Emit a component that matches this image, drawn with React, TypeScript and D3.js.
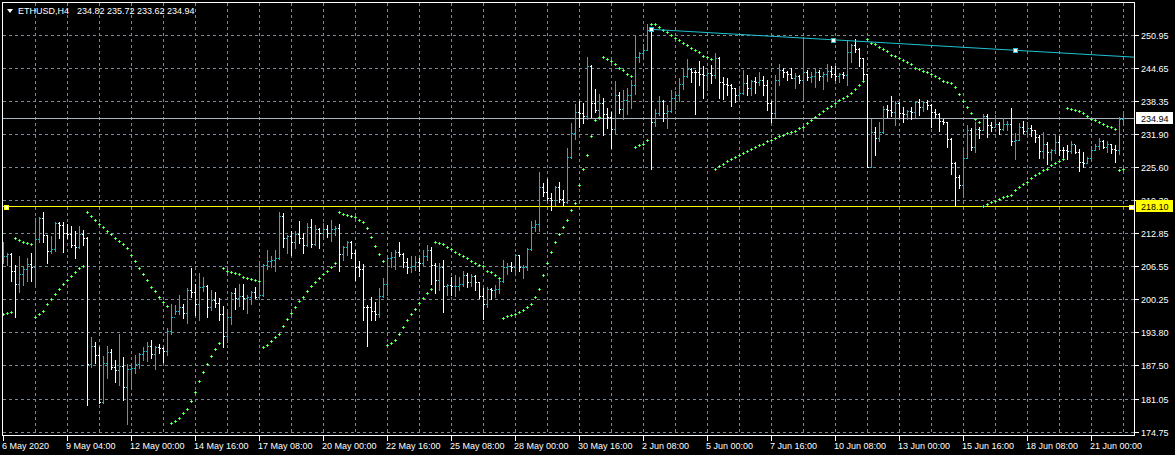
import React from 'react';
import * as d3 from 'd3';

// ---- data (ETHUSD H4) ----
const OPEN = [
  207.9,208.4,208.8,205.6,203.1,205.0,205.9,207.0,206.4,211.8,
  215.8,212.5,209.5,209.8,214.8,214.4,212.9,212.7,210.6,210.2,
  212.7,211.9,187.7,191.2,189.5,180.5,187.9,190.0,187.1,186.6,
  187.4,183.4,186.7,186.9,187.7,189.7,190.2,191.2,189.6,191.1,
  190.9,190.3,194.0,196.8,198.0,198.6,197.6,202.0,201.6,199.2,
  202.6,202.7,198.6,200.0,199.4,197.3,193.2,196.8,201.4,200.4,
  200.8,200.4,200.6,201.6,200.7,201.0,206.8,207.6,207.7,208.1,
  216.2,212.0,212.3,211.1,212.7,211.9,210.6,214.1,210.7,213.6,
  212.9,213.6,213.0,213.6,213.8,208.8,210.3,211.2,209.1,206.3,
  205.9,198.7,198.6,198.0,197.3,200.8,203.1,208.1,208.3,209.3,
  208.9,207.4,206.4,206.6,207.4,207.1,208.4,209.6,206.8,203.9,
  206.3,202.7,202.9,202.7,202.8,203.2,204.8,203.4,204.6,203.4,
  200.8,199.3,202.1,202.0,202.1,203.7,206.4,206.6,206.4,208.7,
  206.3,206.4,209.8,214.0,214.6,221.7,220.7,219.6,219.2,221.8,
  219.4,218.9,227.6,232.1,236.2,236.0,235.4,244.9,237.8,236.5,
  237.8,235.7,235.1,232.9,239.4,236.7,238.5,239.5,241.3,246.8,
  247.4,248.1,251.9,234.2,235.9,238.3,235.9,236.4,238.8,239.5,
  241.5,243.1,244.4,243.9,243.8,243.4,243.3,243.6,243.3,246.5,
  242.0,241.5,241.3,240.7,239.4,239.9,241.7,240.7,242.1,242.0,
  242.3,241.3,237.8,235.9,242.3,244.2,243.9,243.4,242.7,243.1,
  242.3,243.9,242.9,243.1,243.9,243.1,243.4,244.0,243.4,243.1,
  243.4,243.3,247.6,249.0,248.3,246.5,243.4,225.6,232.3,231.1,
  232.3,236.7,236.5,236.1,237.8,235.9,235.7,236.4,236.2,238.0,
  237.2,238.0,237.5,236.1,235.7,234.4,234.2,231.0,226.3,223.7,
  222.1,227.4,232.7,229.5,232.9,232.7,235.4,233.7,233.3,233.8,
  232.9,233.8,233.9,230.6,230.8,233.2,232.5,233.1,232.7,231.4,
  228.7,230.1,228.4,228.9,230.4,228.9,228.8,228.7,230.1,228.4,
  226.6,226.4,227.4,228.9,229.7,230.6,229.5,230.1,229.0,228.9,
  234.82
];
const HIGH = [
  211.2,209.1,209.0,206.8,208.5,206.6,208.1,209.0,215.7,215.9,
  216.9,212.5,212.3,215.0,215.0,215.0,214.6,214.3,213.2,214.3,
  213.5,212.2,193.0,191.9,191.1,189.3,191.2,190.6,188.6,193.5,
  189.1,187.7,188.0,189.5,189.8,191.1,192.0,192.4,191.2,191.6,
  191.0,194.7,199.3,199.1,201.0,199.3,202.4,206.1,203.1,205.2,
  204.4,202.9,202.0,201.5,200.4,198.9,198.4,201.6,202.3,203.1,
  203.1,201.0,201.8,202.6,207.0,207.0,209.6,208.4,209.6,216.9,
  216.8,212.5,213.2,213.3,215.2,212.9,214.9,215.6,214.4,213.8,
  214.8,214.4,215.4,214.3,214.6,210.4,211.4,211.4,209.6,207.5,
  207.0,199.1,200.6,199.7,202.4,204.2,208.7,209.3,209.6,211.2,
  209.1,208.1,208.4,208.4,208.1,209.6,210.6,210.3,207.1,207.1,
  207.7,203.2,204.5,204.8,204.5,205.7,205.2,205.0,204.8,203.5,
  202.3,202.6,202.4,202.9,204.4,207.7,207.1,207.4,208.9,208.7,
  206.8,210.1,215.3,215.5,224.7,222.6,223.3,220.5,221.9,222.8,
  221.2,229.2,234.1,237.6,238.3,237.8,246.7,245.2,240.6,239.7,
  238.8,237.0,236.2,242.1,240.0,240.4,240.7,242.3,250.8,247.7,
  249.2,253.0,252.2,236.7,239.2,238.5,237.5,240.4,240.2,242.6,
  244.7,246.3,244.7,244.2,245.9,244.9,244.5,245.2,247.4,246.8,
  242.9,242.6,241.5,240.8,241.2,244.2,243.3,242.3,242.9,243.9,
  243.1,242.3,238.3,243.3,245.3,244.7,244.0,244.7,243.6,243.3,
  250.6,244.2,243.9,244.5,244.2,243.8,245.3,244.9,244.9,243.6,
  243.9,250.0,249.2,250.2,248.4,246.5,243.4,234.8,233.3,234.2,
  237.4,237.5,239.3,238.3,238.0,237.1,236.5,237.2,238.3,238.6,
  238.3,238.5,237.6,236.7,235.9,234.9,234.3,231.1,226.5,224.1,
  228.9,233.7,233.0,234.3,233.3,235.7,235.7,234.2,235.6,234.2,
  235.0,234.4,237.0,232.1,234.0,234.4,234.2,233.7,232.7,231.7,
  232.3,230.3,229.0,231.9,231.6,229.5,229.9,230.6,229.9,229.0,
  228.4,227.6,229.7,230.1,231.2,230.8,230.6,230.1,229.8,235.2,
  235.72
];
const LOW = [
  207.1,206.8,203.7,196.8,201.6,202.9,203.6,203.7,202.6,211.2,
  211.2,207.2,209.0,209.5,212.0,209.3,211.9,210.3,208.1,210.0,
  210.6,179.9,187.1,188.0,180.3,180.3,185.0,186.8,184.3,183.7,
  180.8,176.2,183.1,186.0,186.9,188.5,188.4,188.8,186.8,189.8,
  188.1,189.5,193.5,197.3,197.3,196.6,195.7,200.6,197.2,196.1,
  201.8,196.8,198.2,198.6,196.2,191.1,192.0,195.4,198.3,198.9,
  198.3,197.6,199.3,200.4,200.7,200.8,205.9,206.4,205.7,207.9,
  210.2,209.1,208.7,210.1,211.0,209.1,210.4,210.3,210.6,210.1,
  211.8,212.2,211.4,212.5,205.7,207.7,208.7,208.1,203.9,204.6,
  196.1,191.2,196.2,196.2,196.8,200.7,201.0,206.3,205.9,208.4,
  206.4,205.2,205.5,205.8,205.6,206.8,207.7,203.2,201.4,202.0,
  197.8,201.0,201.0,200.8,202.0,202.7,202.5,202.7,202.0,200.4,
  196.4,198.6,200.2,200.7,201.4,203.4,205.0,205.7,204.8,205.7,
  204.2,205.8,209.6,213.2,213.3,220.0,219.2,217.3,218.3,218.9,
  218.3,218.6,227.3,231.0,233.3,234.0,234.9,235.1,236.2,234.8,
  231.7,233.0,229.2,232.1,236.0,234.8,235.8,237.0,239.7,245.7,
  246.6,248.1,225.3,233.5,235.6,234.4,233.1,236.2,236.7,238.3,
  240.6,242.9,242.0,235.8,241.3,238.9,240.4,241.7,242.6,238.8,
  238.6,239.5,237.4,238.0,238.3,239.6,239.4,239.4,239.9,241.3,
  239.4,236.5,234.3,235.1,241.3,242.9,242.3,242.6,240.7,241.7,
  238.5,242.3,242.0,241.0,242.3,240.6,242.1,242.9,242.3,242.0,
  242.6,241.3,245.8,247.7,244.9,242.1,225.5,225.5,227.8,230.6,
  232.1,235.2,235.4,233.7,235.1,234.3,234.9,234.8,235.2,235.6,
  236.3,236.7,233.3,235.1,232.5,233.8,229.5,224.2,218.0,221.6,
  219.9,227.3,228.9,228.5,231.2,232.7,231.4,232.5,233.3,231.9,
  232.7,232.7,229.9,227.1,230.8,232.2,231.6,231.6,230.4,227.4,
  227.4,226.1,226.9,228.2,227.9,227.4,227.1,228.2,228.2,224.8,
  225.5,226.3,226.7,228.9,229.0,229.2,228.5,228.2,226.6,228.0,
  233.62
];
const CLOSE = [
  208.4,208.8,205.6,203.1,205.0,205.9,207.0,206.4,211.8,215.8,
  212.5,209.5,209.8,214.8,214.4,212.9,212.7,210.6,210.2,212.7,
  211.9,187.7,191.2,189.5,180.5,187.9,190.0,187.1,186.6,187.4,
  183.4,186.7,186.9,187.7,189.7,190.2,191.2,189.6,191.1,190.9,
  190.3,194.0,196.8,198.0,198.6,197.6,202.0,201.6,199.2,202.6,
  202.7,198.6,200.0,199.4,197.3,193.2,196.8,201.4,200.4,200.8,
  200.4,200.6,201.6,200.7,201.0,206.8,207.6,207.7,208.1,216.2,
  212.0,212.3,211.1,212.7,211.9,210.6,214.1,210.7,213.6,212.9,
  213.6,213.0,213.6,213.8,208.8,210.3,211.2,209.1,206.3,205.9,
  198.7,198.6,198.0,197.3,200.8,203.1,208.1,208.3,209.3,208.9,
  207.4,206.4,206.6,207.4,207.1,208.4,209.6,206.8,203.9,206.3,
  202.7,202.9,202.7,202.8,203.2,204.8,203.4,204.6,203.4,200.8,
  199.3,202.1,202.0,202.1,203.7,206.4,206.6,206.4,208.7,206.3,
  206.4,209.8,214.0,214.6,221.7,220.7,219.6,219.2,221.8,219.4,
  218.9,227.6,232.1,236.2,236.0,235.4,244.9,237.8,236.5,237.8,
  235.7,235.1,232.9,239.4,236.7,238.5,239.5,241.3,246.8,247.4,
  248.1,251.9,234.2,235.9,238.3,235.9,236.4,238.8,239.5,241.5,
  243.1,244.4,243.9,243.8,243.4,243.3,243.6,243.3,246.5,242.0,
  241.5,241.3,240.7,239.4,239.9,241.7,240.7,242.1,242.0,242.3,
  241.3,237.8,235.9,242.3,244.2,243.9,243.4,242.7,243.1,242.3,
  243.9,242.9,243.1,243.9,243.1,243.4,244.0,243.4,243.1,243.4,
  243.3,247.6,249.0,248.3,246.5,243.4,225.6,232.3,231.1,232.3,
  236.7,236.5,236.1,237.8,235.9,235.7,236.4,236.2,238.0,237.2,
  238.0,237.5,236.1,235.7,234.4,234.2,231.0,226.3,223.7,222.1,
  227.4,232.7,229.5,232.9,232.7,235.4,233.7,233.3,233.8,232.9,
  233.8,233.9,230.6,230.8,233.2,232.5,233.1,232.7,231.4,228.7,
  230.1,228.4,228.9,230.4,228.9,228.8,228.7,230.1,228.4,226.6,
  226.4,227.4,228.9,229.7,230.6,229.5,230.1,229.0,228.9,234.82,
  234.94
];
// Parabolic SAR
const SAR = [
  197.4,197.5,197.8,211.9,211.6,211.1,210.9,210.7,196.8,197.4,
  198.0,199.2,200.2,201.1,202.1,203.1,203.8,204.6,205.4,206.1,
  206.6,216.9,216.1,215.4,214.6,214.0,213.2,212.7,211.9,211.3,
  210.7,210.0,208.6,207.5,206.1,205.0,203.9,202.6,201.7,200.7,
  199.7,198.8,176.4,176.8,177.3,178.3,179.0,180.6,182.4,184.4,
  186.2,187.7,189.2,190.6,191.7,206.1,205.7,205.5,205.2,205.0,
  204.5,204.3,204.0,203.8,203.6,191.1,191.3,192.1,192.9,193.5,
  195.0,196.3,197.5,198.6,199.8,200.7,201.7,202.7,203.4,204.2,
  205.0,205.7,206.3,207.1,216.9,216.5,216.3,216.1,215.9,215.5,
  215.0,213.8,212.1,210.4,208.8,207.5,191.3,191.7,192.3,193.5,
  194.8,196.1,197.3,198.4,199.4,200.4,201.3,202.1,211.1,210.9,
  210.7,210.2,209.8,209.2,208.8,208.4,208.1,207.5,207.1,206.7,
  206.5,205.7,205.4,204.8,204.2,196.5,196.9,197.1,197.3,197.7,
  198.1,198.6,199.2,200.6,202.1,204.8,207.1,209.2,211.1,212.7,
  214.0,215.4,217.3,218.6,222.1,225.2,227.8,231.5,234.6,235.1,
  246.7,246.3,245.9,245.3,244.7,244.2,243.4,243.0,229.4,229.8,
  230.1,230.7,253.0,253.0,252.4,252.0,251.5,250.9,250.3,249.9,
  249.4,249.0,248.4,248.0,247.6,247.0,246.7,246.3,225.3,225.7,
  226.1,226.7,227.1,227.5,227.8,228.2,228.6,229.0,229.4,229.8,
  230.1,230.5,230.7,231.1,231.5,231.7,232.1,232.4,232.6,233.0,
  233.2,234.0,234.6,235.1,235.7,236.3,236.9,237.4,237.8,238.4,
  238.8,239.2,239.9,240.5,241.3,242.1,250.1,249.5,249.2,248.6,
  248.2,247.8,247.2,246.9,246.5,246.1,245.7,245.3,244.7,244.4,
  244.0,243.8,243.4,243.0,242.6,242.2,241.9,241.7,240.9,239.6,
  238.2,237.1,235.9,234.8,234.2,218.0,218.4,218.8,219.0,219.4,
  219.8,220.0,220.3,221.1,221.7,222.3,222.8,223.4,224.0,224.4,
  225.0,225.3,225.9,226.3,226.7,227.1,236.9,236.7,236.5,236.3,
  235.9,235.3,234.9,234.6,234.2,233.8,233.4,233.2,232.8,225.0,
  225.2
];

const TIME_LABELS = [
  '6 May 2020','9 May 04:00','12 May 00:00','14 May 16:00','17 May 08:00','20 May 00:00',
  '22 May 16:00','25 May 08:00','28 May 00:00','30 May 16:00','2 Jun 08:00','5 Jun 00:00',
  '7 Jun 16:00','10 Jun 08:00','13 Jun 00:00','15 Jun 16:00','18 Jun 08:00','21 Jun 00:00'
];
const TIME_LABEL_BARS = [0,16,32,48,64,80,96,112,128,144,160,176,192,208,224,240,256,272];
const PRICE_TICKS = [250.95,244.65,238.35,231.90,225.60,219.30,212.85,206.55,200.25,193.80,187.50,181.05,174.75];
const TREND_BARS = [162, 253];
const TREND_PRICES = [252.04, 248.01];
const HLINE_PRICE = 218.10;
const BID_PRICE = 234.94;
const SYMBOL = 'ETHUSD,H4';
const LAST_OHLC = ['234.82', '235.72', '233.62', '234.94'];

const FONT = "'Liberation Sans', Arial, sans-serif";
const UP = '#1cb4c8';
const DOWN = '#ffffff';
const GRID = '#778899';
const SARC = '#3cf23c';
const TRENDC = '#1fc3d3';

export default function App() {
  const W = 1175, H = 455;
  const L = 2.5, R = 1134.5, T = 2.5, B = 435.5;
  const n = OPEN.length;
  const x = d3.scaleLinear().domain([0, n - 1]).range([3.3, 1123.3]);
  const y = d3.scaleLinear().domain([174.75, 250.95]).range([431.6, 35]);
  const col = (i: number) => Math.floor(x(i));
  const py = (v: number) => Math.round(y(v));
  const fmt = d3.format('.2f');

  const vGrid = d3.range(8, n, 8);

  // trendline (ray to the right)
  const tx1 = x(TREND_BARS[0]), ty1 = y(TREND_PRICES[0]);
  const tx2 = x(TREND_BARS[1]), ty2 = y(TREND_PRICES[1]);
  const slope = (ty2 - ty1) / (tx2 - tx1);
  const tyEnd = ty1 + slope * (R - tx1);
  const midBar = (TREND_BARS[0] + TREND_BARS[1]) / 2;
  const midPrice = (TREND_PRICES[0] + TREND_PRICES[1]) / 2;

  const hy = py(HLINE_PRICE) + 0.5;
  const by = py(BID_PRICE) + 0.5;

  const sq = (cx: number, cy: number, stroke: string, key: string) => (
    <rect key={key} x={Math.round(cx) - 2 + 0.5} y={Math.round(cy) - 2 + 0.5} width={4} height={4}
      fill="#ffffff" stroke={stroke} strokeWidth={1} />
  );

  // price labels hidden behind the level label are clipped like in the terminal
  const hiddenByLevel = (p: number) => Math.abs(py(p) - hy) < 12;

  return (
    <svg width={W} height={H} style={{ position: 'absolute', left: 0, top: 0, display: 'block', background: '#000' }}
      fontFamily={FONT}>
      <defs>
        <clipPath id="aboveLevel">
          <rect x={1136} y={0} width={40} height={hy - 6.5} />
        </clipPath>
      </defs>
      <rect x={0} y={0} width={W} height={H} fill="#000" />
      {/* grid */}
      <g stroke={GRID} strokeWidth={1} strokeDasharray="3,3" shapeRendering="crispEdges">
        {vGrid.map(i => (
          <line key={'vg' + i} x1={col(i) + 0.5} x2={col(i) + 0.5} y1={T} y2={B} />
        ))}
        {PRICE_TICKS.map(p => (
          <line key={'hg' + p} x1={L} x2={R} y1={py(p) + 0.5} y2={py(p) + 0.5} />
        ))}
      </g>

      {/* horizontal level line */}
      <line x1={L} x2={R} y1={hy} y2={hy} stroke="#ffff00" strokeWidth={1} shapeRendering="crispEdges" />
      {/* bid line */}
      <line x1={L} x2={R} y1={by} y2={by} stroke="#a9b3bf" strokeWidth={1} shapeRendering="crispEdges" />

      {/* bars */}
      <g shapeRendering="crispEdges">
        {OPEN.map((o, i) => {
          const c = CLOSE[i];
          const color = c >= o ? UP : DOWN;
          const cx = col(i);
          const yh = py(HIGH[i]);
          const yl = py(LOW[i]);
          return (
            <g key={'b' + i} fill={color}>
              <rect x={cx} y={yh} width={1} height={Math.max(1, yl - yh + 1)} />
              <rect x={cx - 1} y={py(o)} width={1} height={1} />
              <rect x={cx + 1} y={py(c)} width={1} height={1} />
            </g>
          );
        })}
      </g>

      {/* parabolic SAR */}
      <g shapeRendering="crispEdges">
        {SAR.map((s, i) => {
          const cx = col(i), cy = py(s);
          return (
            <g key={'s' + i}>
              <rect x={cx - 1} y={cy} width={3} height={1} fill={SARC} />
              <rect x={cx} y={cy - 1} width={1} height={3} fill={SARC} />
              <rect x={cx} y={cy} width={1} height={1} fill="#c8ffc8" />
            </g>
          );
        })}
      </g>

      {/* trendline */}
      <line x1={tx1} y1={ty1} x2={R} y2={tyEnd} stroke={TRENDC} strokeWidth={1} />
      {sq(tx1, ty1, TRENDC, 't1')}
      {sq(x(midBar), y(midPrice), TRENDC, 't2')}
      {sq(tx2, ty2, TRENDC, 't3')}
      {sq(L + 3, hy, '#ffff00', 'h1')}
      {sq(R - 4, hy, '#ffff00', 'h2')}

      {/* frame */}
      <rect x={L} y={T} width={R - L} height={B - T} fill="none" stroke="#ffffff" strokeWidth={1} shapeRendering="crispEdges" />

      {/* price axis */}
      <g fontSize={9} fill="#ffffff">
        {PRICE_TICKS.map(p => (
          <g key={'pl' + p}>
            <line x1={R} x2={R + 4} y1={py(p) + 0.5} y2={py(p) + 0.5} stroke="#fff" shapeRendering="crispEdges" />
            <text x={1141} y={py(p) + 3.5} clipPath={hiddenByLevel(p) ? 'url(#aboveLevel)' : undefined}>{fmt(p)}</text>
          </g>
        ))}
      </g>
      {/* level label */}
      <rect x={1136} y={hy - 6.5} width={37} height={12} fill="#ffff00" shapeRendering="crispEdges" />
      <text x={1141} y={hy + 3.5} fontSize={9} fill="#000">{fmt(HLINE_PRICE)}</text>
      {/* bid label */}
      <rect x={1136} y={by - 6.5} width={37} height={12} fill="#ffffff" shapeRendering="crispEdges" />
      <text x={1141} y={by + 3.5} fontSize={9} fill="#000">{fmt(BID_PRICE)}</text>

      {/* time axis */}
      <g fontSize={9} fill="#ffffff">
        {TIME_LABELS.map((t, k) => {
          const cx = col(TIME_LABEL_BARS[k]);
          return (
            <g key={'tl' + k}>
              <line x1={cx + 0.5} x2={cx + 0.5} y1={B} y2={B + 5} stroke="#fff" shapeRendering="crispEdges" />
              <text x={cx - 1} y={449}>{t}</text>
            </g>
          );
        })}
      </g>

      {/* header */}
      <polygon points="7,9 13,9 10,13" fill="#ffffff" />
      <text x={18} y={14} fontSize={9} fill="#ffffff">{SYMBOL}</text>
      <text x={77} y={14} fontSize={9} fill="#ffffff" style={{ whiteSpace: 'pre' }}>
        {LAST_OHLC.join(' ')}
      </text>
    </svg>
  );
}
